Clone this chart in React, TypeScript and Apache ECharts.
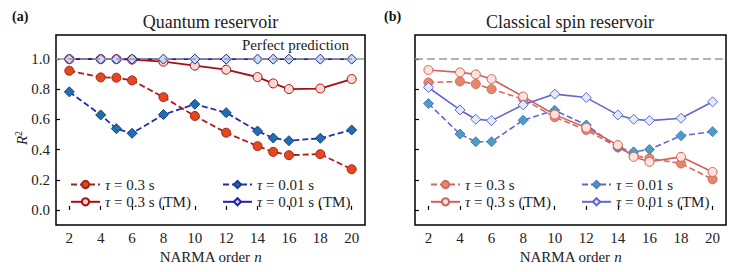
import React, { useEffect, useRef } from "react";
import * as echarts from "echarts";

const orders = [2, 4, 5, 6, 8, 10, 12, 14, 15, 16, 18, 20];
const xTicks = [2, 4, 6, 8, 10, 12, 14, 16, 18, 20];
const yTicks = [0, 0.2, 0.4, 0.6, 0.8, 1.0];

// Quantum reservoir
const qTau03 = [0.923, 0.879, 0.877, 0.859, 0.748, 0.623, 0.512, 0.423, 0.385, 0.363, 0.37, 0.27];
const qTau001 = [0.783, 0.63, 0.539, 0.508, 0.632, 0.701, 0.645, 0.523, 0.477, 0.459, 0.475, 0.53];
const qTau03TM = [1.0, 1.0, 1.0, 0.997, 0.983, 0.957, 0.93, 0.881, 0.839, 0.801, 0.805, 0.868];
const qTau001TM = [1.0, 1.0, 1.0, 1.0, 1.0, 1.0, 1.0, 1.0, 1.0, 1.0, 1.0, 1.0];

// Classical spin reservoir
const cTau03 = [0.845, 0.852, 0.835, 0.801, 0.735, 0.615, 0.53, 0.415, 0.362, 0.342, 0.308, 0.203];
const cTau001 = [0.705, 0.503, 0.452, 0.452, 0.595, 0.661, 0.563, 0.415, 0.385, 0.401, 0.492, 0.519];
const cTau03TM = [0.928, 0.912, 0.899, 0.868, 0.752, 0.632, 0.545, 0.43, 0.352, 0.319, 0.352, 0.252];
const cTau001TM = [0.812, 0.663, 0.601, 0.592, 0.697, 0.768, 0.745, 0.63, 0.601, 0.592, 0.608, 0.717];

const labels: Record<string, string> = {
  qa: "{i|τ} = 0.3 s",
  qb: "{i|τ} = 0.01 s",
  qc: "{i|τ} = 0.3 s (TM)",
  qd: "{i|τ} = 0.01 s (TM)",
  ca: "{i|τ} = 0.3 s",
  cb: "{i|τ} = 0.01 s",
  cc: "{i|τ} = 0.3 s (TM)",
  cd: "{i|τ} = 0.01 s (TM)",
};

const FONT = "Liberation Serif";
const TXT = "#222";

const pts = (vals: number[]) => orders.map((x, i) => [x, vals[i]]);

function mkSeries(
  name: string,
  idx: number,
  vals: number[],
  symbol: string,
  lineColor: string,
  fill: string,
  border: string,
  dashed: boolean,
  width: number,
  extra: any = {}
) {
  return {
    name,
    type: "line",
    xAxisIndex: idx,
    yAxisIndex: idx,
    data: pts(vals),
    symbol,
    symbolSize: symbol === "circle" ? 9 : 10,
    showAllSymbol: true,
    lineStyle: { color: lineColor, width, type: dashed ? [6, 3] : "solid" },
    itemStyle: { color: fill, borderColor: border, borderWidth: 1 },
    emphasis: { disabled: true },
    ...extra,
  };
}

const refLine = {
  markLine: {
    silent: true,
    symbol: "none",
    label: { show: false },
    lineStyle: { color: "#999", type: [8, 4], width: 1.5 },
    data: [{ yAxis: 1 }],
  },
};

function mkXAxis(idx: number) {
  return {
    type: "value",
    gridIndex: idx,
    min: 1.15,
    max: 20.85,
    name: "NARMA order {i|n}",
    nameLocation: "middle",
    nameGap: 19,
    nameTextStyle: {
      fontFamily: FONT,
      fontSize: 15,
      color: TXT,
      rich: { i: { fontStyle: "italic", fontFamily: FONT, fontSize: 15, color: TXT } },
    },
    axisLine: { show: false },
    splitLine: { show: false },
    axisTick: { show: true, inside: true, length: 4, customValues: xTicks, lineStyle: { color: "#000", width: 1.2 } },
    axisLabel: { customValues: xTicks, fontFamily: FONT, fontSize: 15, color: TXT, margin: 5 },
  };
}

function mkYAxis(idx: number, showLabels: boolean) {
  return {
    type: "value",
    gridIndex: idx,
    min: -0.1,
    max: 1.16,
    axisLine: { show: false },
    splitLine: { show: false },
    axisTick: { show: true, inside: true, length: 4, customValues: yTicks, lineStyle: { color: "#000", width: 1.2 } },
    axisLabel: {
      show: showLabels,
      customValues: yTicks,
      formatter: (v: number) => v.toFixed(1),
      fontFamily: FONT,
      fontSize: 15,
      color: TXT,
      margin: 6,
    },
  };
}

function mkLegend(left: number, data: string[]) {
  return {
    orient: "vertical",
    left,
    top: 177,
    itemWidth: 29,
    itemHeight: 9,
    itemGap: 2.3,
    padding: 0,
    data,
    selectedMode: false,
    formatter: (n: string) => labels[n],
    textStyle: {
      fontFamily: FONT,
      fontSize: 15,
      lineHeight: 15,
      color: TXT,
      rich: { i: { fontStyle: "italic", fontFamily: FONT, fontSize: 15, lineHeight: 15, color: TXT } },
    },
  };
}

export default function App() {
  const ref = useRef<HTMLDivElement>(null);
  useEffect(() => {
    if (!ref.current) return;
    const chart = echarts.init(ref.current, undefined, { renderer: "svg" });
    const option: any = {
      animation: false,
      backgroundColor: "#fff",
      textStyle: { fontFamily: FONT },
      grid: [
        { left: 56, top: 35, width: 309, height: 190, show: true, borderColor: "#000", borderWidth: 1.5, backgroundColor: "transparent" },
        { left: 415, top: 35, width: 311, height: 190, show: true, borderColor: "#000", borderWidth: 1.5, backgroundColor: "transparent" },
      ],
      xAxis: [mkXAxis(0), mkXAxis(1)],
      yAxis: [mkYAxis(0, true), mkYAxis(1, false)],
      legend: [
        mkLegend(70, ["qa", "qc"]),
        mkLegend(222, ["qb", "qd"]),
        mkLegend(430, ["ca", "cc"]),
        mkLegend(581, ["cb", "cd"]),
      ],
      series: [
        mkSeries("qa", 0, qTau03, "circle", "#b01c1c", "#e04a1e", "#a8201a", true, 1.8, refLine),
        mkSeries("qb", 0, qTau001, "diamond", "#1f2fb0", "#1f6fad", "#1a3c8a", true, 1.8),
        mkSeries("qc", 0, qTau03TM, "circle", "#a50f15", "#fcd9cf", "#a50f15", false, 1.8),
        mkSeries("qd", 0, qTau001TM, "diamond", "#2020b0", "#c9dcf0", "#2020b0", false, 1.8),
        mkSeries("ca", 1, cTau03, "circle", "#d46a5e", "#e8866a", "#d46a5e", true, 1.6, refLine),
        mkSeries("cb", 1, cTau001, "diamond", "#6466cf", "#4b9ec2", "#4b7dc2", true, 1.6),
        mkSeries("cc", 1, cTau03TM, "circle", "#d0625c", "#fde3da", "#d0625c", false, 1.6),
        mkSeries("cd", 1, cTau001TM, "diamond", "#6466cf", "#e0ecf8", "#6466cf", false, 1.6),
      ],
      graphic: [
        { type: "text", left: 12, top: 9, style: { text: "(a)", fontFamily: FONT, fontSize: 14, fontWeight: "bold", fill: "#111" } },
        { type: "text", left: 384, top: 9, style: { text: "(b)", fontFamily: FONT, fontSize: 14, fontWeight: "bold", fill: "#111" } },
        { type: "text", x: 210.5, y: 22, style: { text: "Quantum reservoir", fontFamily: FONT, fontSize: 18, fill: TXT, align: "center", verticalAlign: "middle" } },
        { type: "text", x: 570, y: 22, style: { text: "Classical spin reservoir", fontFamily: FONT, fontSize: 18, fill: TXT, align: "center", verticalAlign: "middle" } },
        { type: "text", x: 349, y: 45, style: { text: "Perfect prediction", fontFamily: FONT, fontSize: 15, fill: TXT, align: "right", verticalAlign: "middle" } },
        {
          type: "text",
          x: 22,
          y: 138,
          rotation: Math.PI / 2,
          style: {
            text: "{i|R}{s|2}",
            align: "center",
            verticalAlign: "middle",
            rich: {
              i: { fontFamily: FONT, fontSize: 15, fontStyle: "italic", fill: TXT },
              s: { fontFamily: FONT, fontSize: 10, fill: TXT, padding: [0, 0, 8, 0] },
            },
          },
        },
      ],
    };
    chart.setOption(option);
    return () => chart.dispose();
  }, []);
  return <div ref={ref} style={{ position: "absolute", left: 0, top: 0, width: 738, height: 272 }} />;
}
